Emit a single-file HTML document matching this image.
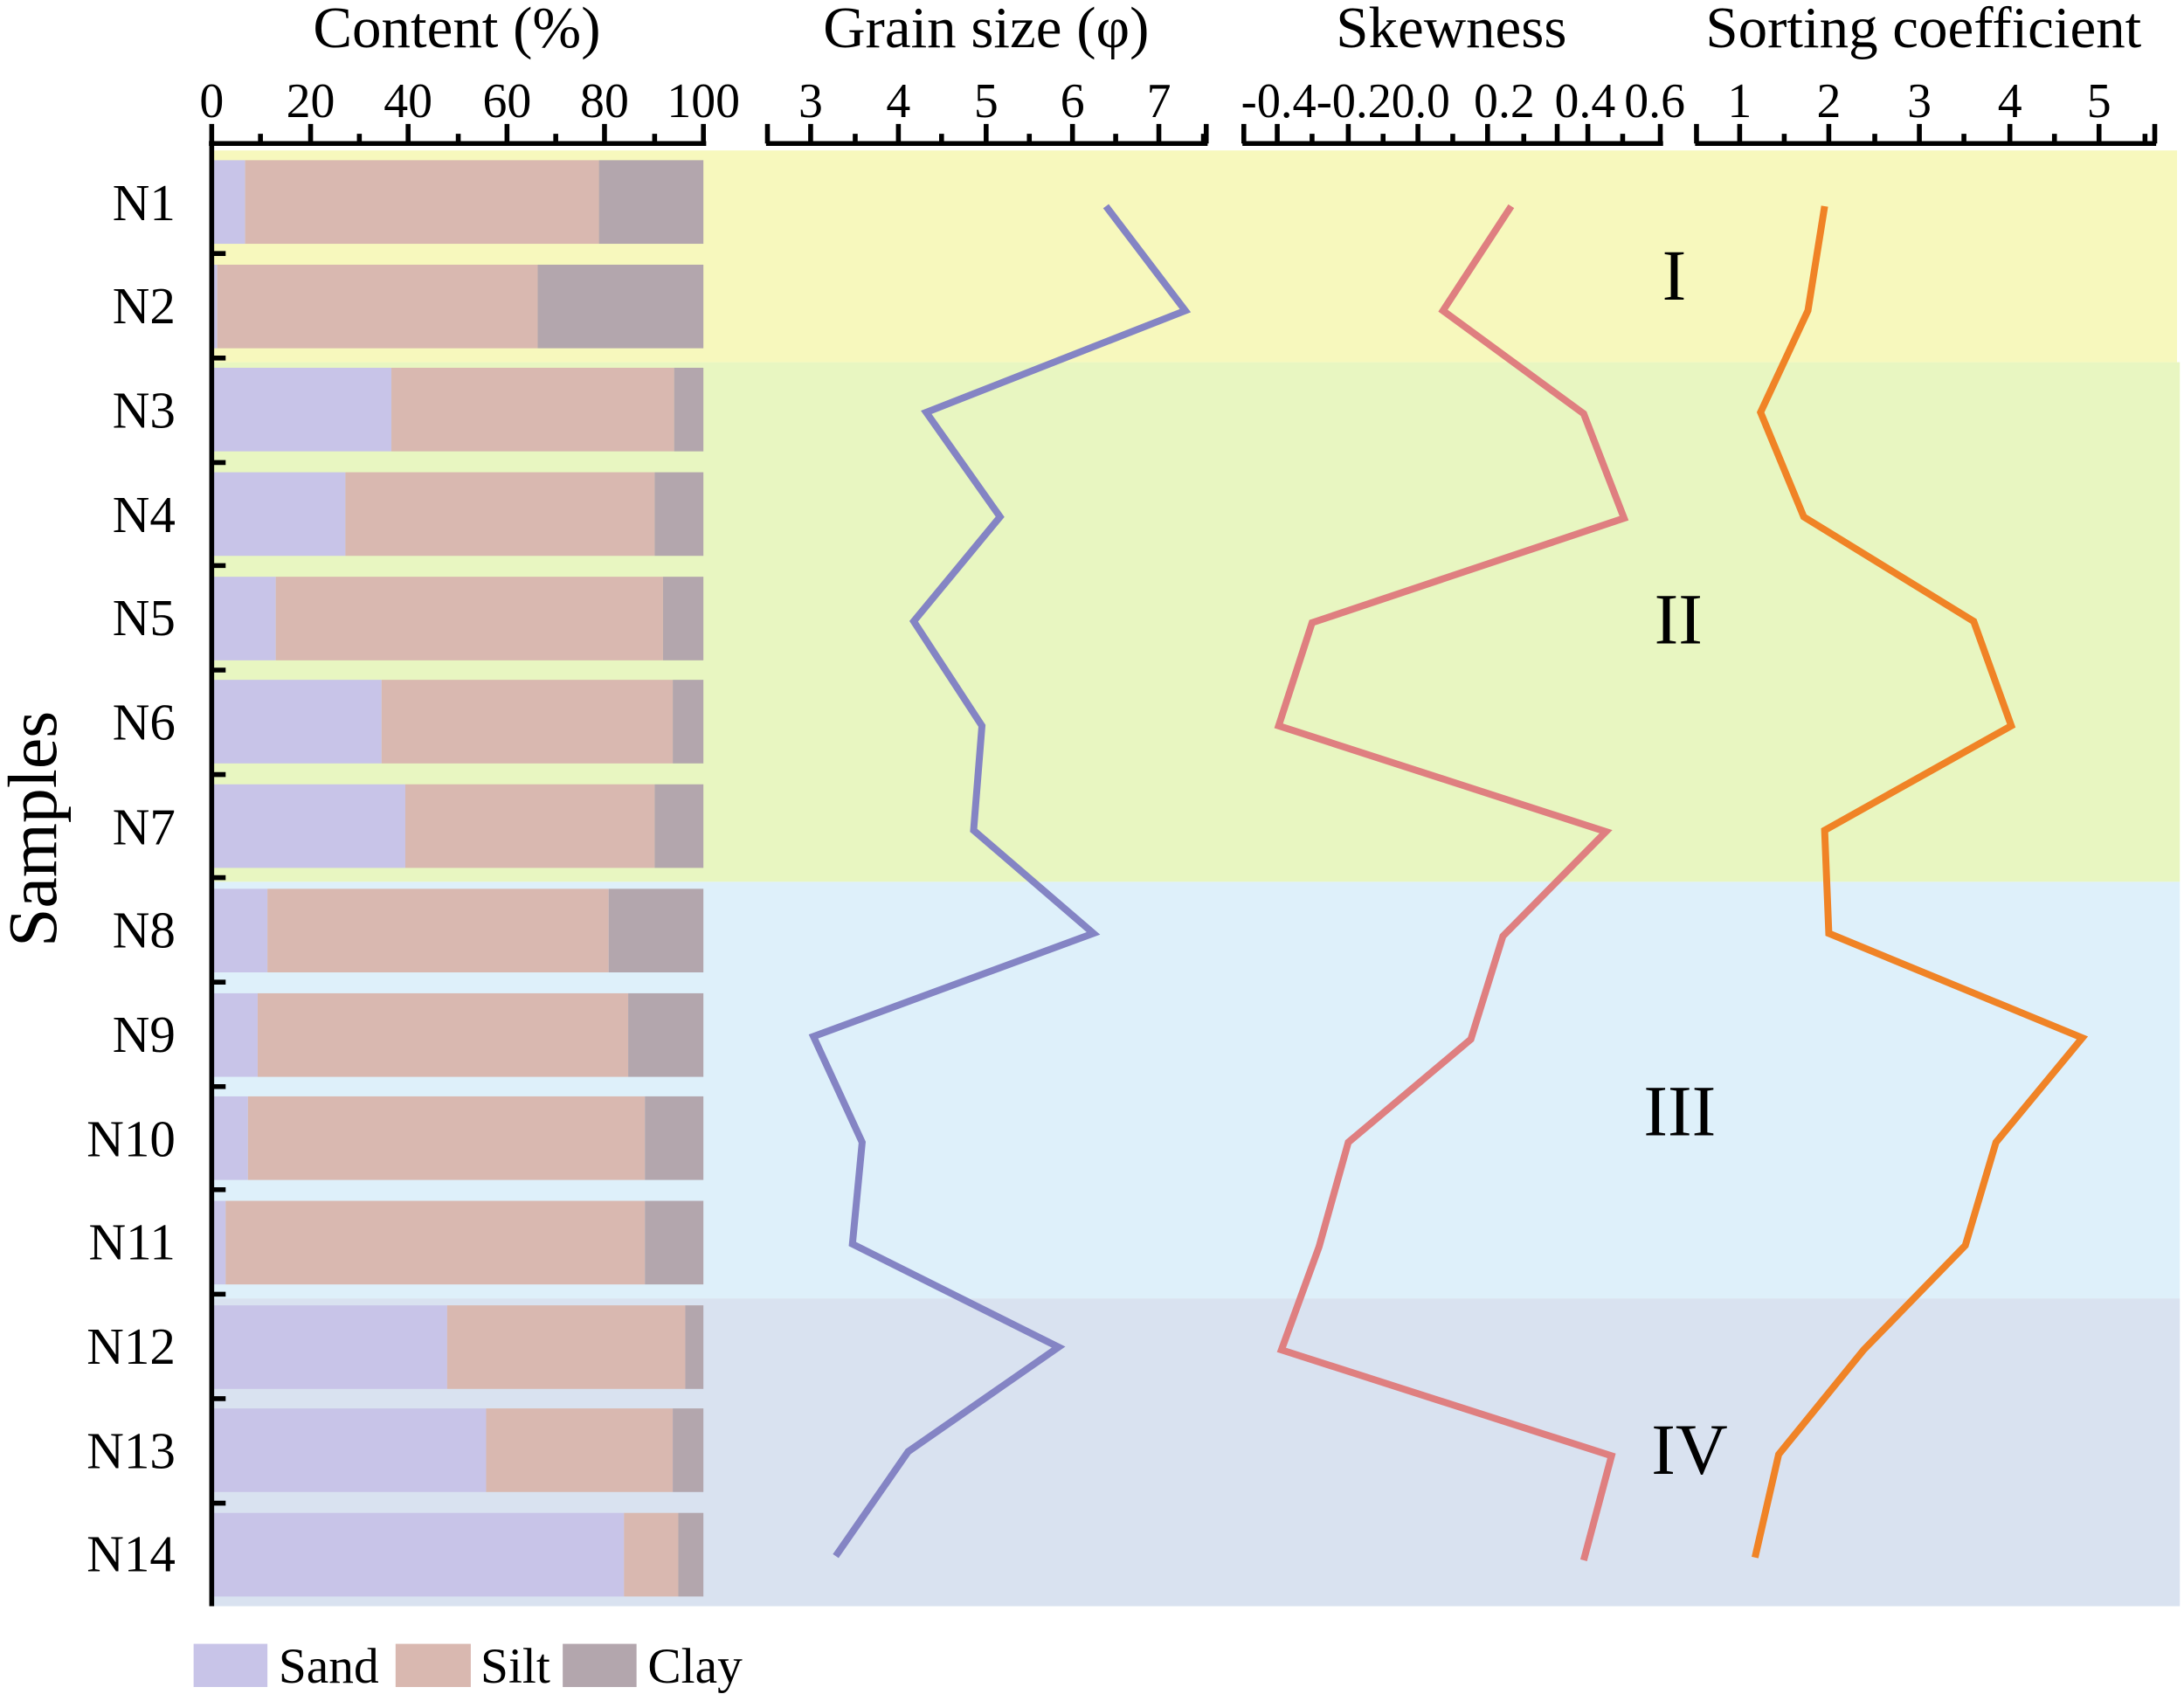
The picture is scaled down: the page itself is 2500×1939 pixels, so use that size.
<!DOCTYPE html>
<html><head><meta charset="utf-8"><style>html,body{margin:0;padding:0;background:#fff}svg{display:block}</style></head>
<body>
<svg width="2500" height="1939" viewBox="0 0 1568 1216" preserveAspectRatio="none" xmlns="http://www.w3.org/2000/svg" font-family="Liberation Serif, serif">
<rect x="0" y="0" width="1568" height="1216" fill="#fff"/>
<rect x="152" y="108" width="1411" height="152" fill="#f7f8bd"/>
<rect x="152" y="260" width="1413" height="373" fill="#e8f6c1"/>
<rect x="152" y="633" width="1413" height="299" fill="#def0fa"/>
<rect x="152" y="932" width="1413" height="221" fill="#d9e2f0"/>
<g>
<g transform="translate(0,115)"><rect x="152" width="24" height="60" fill="#c8c4e8"/><rect x="176" width="254" height="60" fill="#d9b8b0"/><rect x="430" width="75" height="60" fill="#b3a6ad"/></g>
<g transform="translate(0,190)"><rect x="152" width="4" height="60" fill="#c8c4e8"/><rect x="156" width="230" height="60" fill="#d9b8b0"/><rect x="386" width="119" height="60" fill="#b3a6ad"/></g>
<g transform="translate(0,264)"><rect x="152" width="129" height="60" fill="#c8c4e8"/><rect x="281" width="203" height="60" fill="#d9b8b0"/><rect x="484" width="21" height="60" fill="#b3a6ad"/></g>
<g transform="translate(0,339)"><rect x="152" width="96" height="60" fill="#c8c4e8"/><rect x="248" width="222" height="60" fill="#d9b8b0"/><rect x="470" width="35" height="60" fill="#b3a6ad"/></g>
<g transform="translate(0,414)"><rect x="152" width="46" height="60" fill="#c8c4e8"/><rect x="198" width="278" height="60" fill="#d9b8b0"/><rect x="476" width="29" height="60" fill="#b3a6ad"/></g>
<g transform="translate(0,488)"><rect x="152" width="122" height="60" fill="#c8c4e8"/><rect x="274" width="209" height="60" fill="#d9b8b0"/><rect x="483" width="22" height="60" fill="#b3a6ad"/></g>
<g transform="translate(0,563)"><rect x="152" width="139" height="60" fill="#c8c4e8"/><rect x="291" width="179" height="60" fill="#d9b8b0"/><rect x="470" width="35" height="60" fill="#b3a6ad"/></g>
<g transform="translate(0,638)"><rect x="152" width="40" height="60" fill="#c8c4e8"/><rect x="192" width="245" height="60" fill="#d9b8b0"/><rect x="437" width="68" height="60" fill="#b3a6ad"/></g>
<g transform="translate(0,713)"><rect x="152" width="33" height="60" fill="#c8c4e8"/><rect x="185" width="266" height="60" fill="#d9b8b0"/><rect x="451" width="54" height="60" fill="#b3a6ad"/></g>
<g transform="translate(0,787)"><rect x="152" width="26" height="60" fill="#c8c4e8"/><rect x="178" width="285" height="60" fill="#d9b8b0"/><rect x="463" width="42" height="60" fill="#b3a6ad"/></g>
<g transform="translate(0,862)"><rect x="152" width="10" height="60" fill="#c8c4e8"/><rect x="162" width="301" height="60" fill="#d9b8b0"/><rect x="463" width="42" height="60" fill="#b3a6ad"/></g>
<g transform="translate(0,937)"><rect x="152" width="169" height="60" fill="#c8c4e8"/><rect x="321" width="171" height="60" fill="#d9b8b0"/><rect x="492" width="13" height="60" fill="#b3a6ad"/></g>
<g transform="translate(0,1011)"><rect x="152" width="197" height="60" fill="#c8c4e8"/><rect x="349" width="134" height="60" fill="#d9b8b0"/><rect x="483" width="22" height="60" fill="#b3a6ad"/></g>
<g transform="translate(0,1086)"><rect x="152" width="296" height="60" fill="#c8c4e8"/><rect x="448" width="39" height="60" fill="#d9b8b0"/><rect x="487" width="18" height="60" fill="#b3a6ad"/></g>
</g>
<g stroke="#000" stroke-width="3.5">
<line x1="152" y1="101" x2="152" y2="1153"/>
<line x1="152" y1="182" x2="162" y2="182"/><line x1="152" y1="257" x2="162" y2="257"/><line x1="152" y1="332" x2="162" y2="332"/><line x1="152" y1="406" x2="162" y2="406"/><line x1="152" y1="481" x2="162" y2="481"/><line x1="152" y1="556" x2="162" y2="556"/><line x1="152" y1="630" x2="162" y2="630"/><line x1="152" y1="705" x2="162" y2="705"/><line x1="152" y1="780" x2="162" y2="780"/><line x1="152" y1="854" x2="162" y2="854"/><line x1="152" y1="929" x2="162" y2="929"/><line x1="152" y1="1004" x2="162" y2="1004"/><line x1="152" y1="1079" x2="162" y2="1079"/>
</g>
<g stroke="#000" stroke-width="3.5" fill="none">
<line x1="150" y1="103" x2="507" y2="103"/>
<path d="M152 103V89M187 103V96M223 103V89M258 103V96M293 103V89M329 103V96M364 103V89M399 103V96M434 103V89M470 103V96M505 103V89"/>
<line x1="550" y1="103" x2="867" y2="103"/>
<path d="M551 103V89M582 103V89M614 103V96M645 103V89M676 103V96M708 103V89M739 103V96M770 103V89M801 103V96M832 103V89M864 103V96M866 103V89"/>
<line x1="892" y1="103" x2="1194" y2="103"/>
<path d="M893 103V89M917 103V89M942 103V96M968 103V89M993 103V96M1018 103V89M1043 103V96M1068 103V89M1094 103V96M1140 103V89M1118 103V89M1165 103V96M1192 103V89"/>
<line x1="1217" y1="103" x2="1548" y2="103"/>
<path d="M1218 103V89M1249 103V89M1281 103V96M1313 103V89M1346 103V96M1378 103V89M1410 103V96M1443 103V89M1475 103V96M1507 103V89M1540 103V96M1547 103V89"/>
</g>
<g font-size="35" text-anchor="middle" fill="#000">
<text x="152" y="84">0</text><text x="223" y="84">20</text><text x="293" y="84">40</text><text x="364" y="84">60</text><text x="434" y="84">80</text><text x="505" y="84">100</text>
<text x="582" y="84">3</text><text x="645" y="84">4</text><text x="708" y="84">5</text><text x="770" y="84">6</text><text x="832" y="84">7</text>
<text x="918" y="84" textLength="54" lengthAdjust="spacingAndGlyphs">-0.4</text><text x="972" y="84" textLength="54" lengthAdjust="spacingAndGlyphs">-0.2</text><text x="1020" y="84" textLength="42" lengthAdjust="spacingAndGlyphs">0.0</text><text x="1080" y="84">0.2</text><text x="1138" y="84">0.4</text><text x="1188" y="84">0.6</text>
<text x="1249" y="84">1</text><text x="1313" y="84">2</text><text x="1378" y="84">3</text><text x="1443" y="84">4</text><text x="1507" y="84">5</text>
</g>
<g font-size="42" text-anchor="middle" fill="#000">
<text x="328" y="34">Content (%)</text><text x="708" y="34">Grain size (φ)</text><text x="1042" y="34">Skewness</text><text x="1381" y="34">Sorting coefficient</text>
</g>
<text transform="translate(40,595) rotate(-90)" font-size="50" text-anchor="middle">Samples</text>
<g font-size="37" text-anchor="end">
<text x="126" y="158">N1</text><text x="126" y="232">N2</text><text x="126" y="307">N3</text><text x="126" y="382">N4</text><text x="126" y="456">N5</text><text x="126" y="531">N6</text><text x="126" y="606">N7</text><text x="126" y="680">N8</text><text x="126" y="755">N9</text><text x="126" y="830">N10</text><text x="126" y="904">N11</text><text x="126" y="979">N12</text><text x="126" y="1054">N13</text><text x="126" y="1128">N14</text>
</g>
<g fill="none" stroke-width="5" stroke-linejoin="miter">
<polyline stroke="#8484c4" points="794,148 851,223 665,296 718,371 656,446 705,521 699,596 785,670 584,744 619,820 612,893 760,967 652,1042 600,1117"/>
<polyline stroke="#df7f80" points="1085,148 1036,223 1137,297 1166,372 942,447 918,521 1153,597 1079,672 1056,746 968,820 947,895 920,969 1157,1045 1137,1120"/>
<polyline stroke="#f08326" points="1310,148 1298,223 1264,296 1295,371 1417,446 1444,521 1310,596 1313,670 1495,745 1433,820 1411,894 1338,969 1277,1044 1260,1118"/>
</g>
<g font-size="52" text-anchor="middle">
<text x="1202" y="215">I</text><text x="1205" y="462">II</text><text x="1206" y="815">III</text><text x="1213" y="1058">IV</text>
</g>
<rect x="139" y="1180" width="53" height="31" fill="#c8c4e8"/><text x="200" y="1208" font-size="36">Sand</text>
<rect x="284" y="1180" width="54" height="31" fill="#d9b8b0"/><text x="345" y="1208" font-size="36">Silt</text>
<rect x="404" y="1180" width="53" height="31" fill="#b3a6ad"/><text x="465" y="1208" font-size="36">Clay</text>
</svg>
</body></html>
